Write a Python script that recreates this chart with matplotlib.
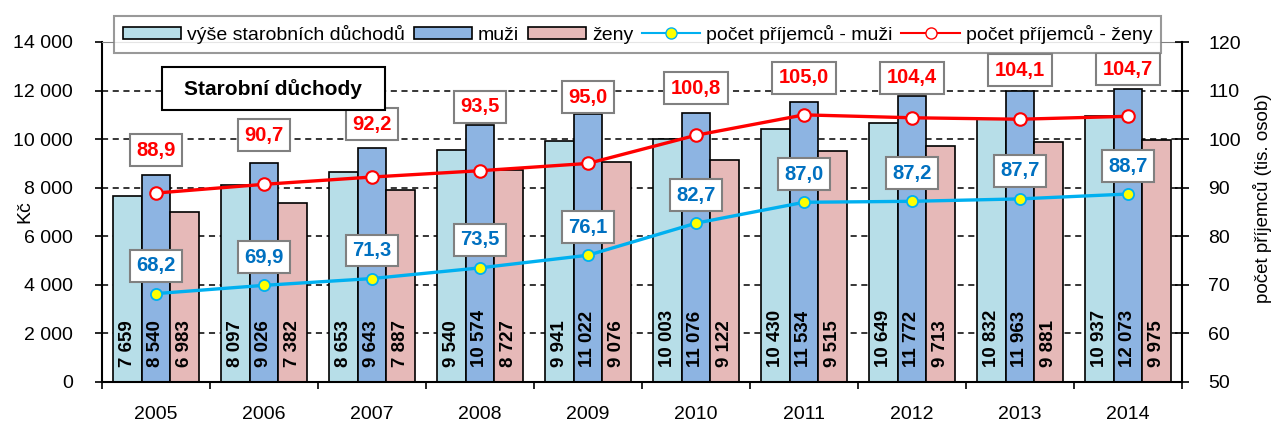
import numpy as np
import matplotlib
matplotlib.use("Agg")
from matplotlib import pyplot as plt
from matplotlib.patches import Rectangle, Patch
from matplotlib.lines import Line2D
from matplotlib.ticker import FuncFormatter

plt.rcParams['font.family'] = ['Liberation Sans', 'DejaVu Sans']

years = ["2005", "2006", "2007", "2008", "2009", "2010", "2011", "2012", "2013", "2014"]
vyse = [7659, 8097, 8653, 9540, 9941, 10003, 10430, 10649, 10832, 10937]
vyse_muzi = [8540, 9026, 9643, 10574, 11022, 11076, 11534, 11772, 11963, 12073]
vyse_zeny = [6983, 7382, 7887, 8727, 9076, 9122, 9515, 9713, 9881, 9975]
pocet_muzi = [68.2, 69.9, 71.3, 73.5, 76.1, 82.7, 87.0, 87.2, 87.7, 88.7]
pocet_zeny = [88.9, 90.7, 92.2, 93.5, 95.0, 100.8, 105.0, 104.4, 104.1, 104.7]

# how far (pixels) each women's label sits above its point
zeny_lbl_dy = [43, 49, 53, 64, 66, 47, 37, 40, 49, 47]
muzi_lbl_dy = 28

c_vyse = "#B7DEE8"
c_muzi = "#8DB4E2"
c_zeny = "#E6B9B8"
c_line_m = "#00B0F0"
c_line_z = "#FF0000"


def cz(v):
    return "{:,}".format(int(v)).replace(",", " ")


fig = plt.figure(figsize=(12.75, 4.26), dpi=100)
ax = fig.add_axes([102 / 1275, 1 - 382 / 426, 1080 / 1275, 340 / 426])
ax2 = ax.twinx()

x = np.arange(len(years))
w = 0.268
for off, vals, col in [(-w, vyse, c_vyse), (0, vyse_muzi, c_muzi), (w, vyse_zeny, c_zeny)]:
    ax.bar(x + off, vals, w, color=col, edgecolor="black", linewidth=1.2, zorder=2)
    for xi, v in zip(x + off, vals):
        ax.annotate(cz(v), (xi, 0), xytext=(0, 15), textcoords="offset pixels",
                    rotation=90, ha="center", va="bottom", fontsize=13.5,
                    fontweight="bold", zorder=3)

ax.set_ylim(0, 14000)
ax.set_yticks(range(0, 14001, 2000))
ax.yaxis.set_major_formatter(FuncFormatter(lambda v, p: cz(v)))
ax.set_xlim(-0.5, len(years) - 0.5)
ax.set_xticks(x)
ax.set_xticklabels(years)
ax.set_xticks(np.arange(-0.5, len(years)), minor=True)
ax.tick_params(axis="x", which="major", length=0, pad=17, labelsize=14)
ax.tick_params(axis="x", which="minor", length=5, width=1.2, direction="out")
ax.tick_params(axis="y", length=5, width=1.2, direction="out", pad=16, labelsize=14)
ax.yaxis.grid(True, color="black", linestyle=(0, (4, 3)), linewidth=1.1)
ax.set_axisbelow(True)
ax.set_ylabel("Kč", fontsize=14)
ax.yaxis.set_label_coords(-0.064, 0.5)
for s in ["left", "bottom"]:
    ax.spines[s].set_linewidth(1.5)
ax.spines["top"].set_color("#808080")
ax.spines["right"].set_visible(False)

ax2.plot(x, pocet_muzi, color=c_line_m, linewidth=2.4, marker="o", markersize=8,
         markerfacecolor="#FFFF00", markeredgecolor=c_line_m, markeredgewidth=1.3, zorder=4)
ax2.plot(x, pocet_zeny, color=c_line_z, linewidth=2.4, marker="o", markersize=9,
         markerfacecolor="white", markeredgecolor=c_line_z, markeredgewidth=1.5, zorder=4)
ax2.set_ylim(50, 120)
ax2.set_yticks(range(50, 121, 10))
ax2.tick_params(axis="y", length=10, width=1.2, direction="inout", pad=14, labelsize=14)
ax2.set_ylabel("počet příjemců (tis. osob)", fontsize=13.5)
ax2.yaxis.set_label_coords(1.066, 0.54)
ax2.spines["right"].set_linewidth(1.5)
ax2.spines["top"].set_visible(False)
ax2.spines["left"].set_visible(False)
ax2.spines["bottom"].set_visible(False)

box = dict(boxstyle="square,pad=0.32", facecolor="white", edgecolor="#808080", linewidth=1.5)
for xi, v in zip(x, pocet_muzi):
    ax2.annotate("{:.1f}".format(v).replace(".", ","), (xi, v), xytext=(0, muzi_lbl_dy),
                 textcoords="offset pixels", ha="center", va="center", fontsize=14.5,
                 fontweight="bold", color="#0070C0", bbox=box, zorder=5)
for xi, v, dy in zip(x, pocet_zeny, zeny_lbl_dy):
    ax2.annotate("{:.1f}".format(v).replace(".", ","), (xi, v), xytext=(0, dy),
                 textcoords="offset pixels", ha="center", va="center", fontsize=14.5,
                 fontweight="bold", color=c_line_z, bbox=box, zorder=5)

# chart title box
fig.patches.append(Rectangle((162 / 1275, 1 - 110 / 426), 223 / 1275, 43 / 426,
                             transform=fig.transFigure, facecolor="white",
                             edgecolor="black", linewidth=1.5, zorder=6))
fig.text(273 / 1275, 1 - 89 / 426, "Starobní důchody", ha="center", va="center",
         fontsize=15, fontweight="bold", zorder=7)

handles = [
    Patch(facecolor=c_vyse, edgecolor="black", linewidth=1.2),
    Patch(facecolor=c_muzi, edgecolor="black", linewidth=1.2),
    Patch(facecolor=c_zeny, edgecolor="black", linewidth=1.2),
    Line2D([], [], color=c_line_m, linewidth=1.5, marker="o", markersize=8,
           markerfacecolor="#FFFF00", markeredgecolor=c_line_m),
    Line2D([], [], color=c_line_z, linewidth=1.5, marker="o", markersize=8,
           markerfacecolor="white", markeredgecolor=c_line_z),
]
labels = ["výše starobních důchodů", "muži", "ženy", "počet příjemců - muži", "počet příjemců - ženy"]
leg = fig.legend(handles, labels, loc="center", ncol=5,
                 bbox_to_anchor=((117 + 1158) / 2 / 1275, 1 - 34.5 / 426),
                 fontsize=14, frameon=True, fancybox=False, handlelength=3.0,
                 handleheight=0.6, handletextpad=0.3, columnspacing=0.45,
                 borderpad=0.45)
leg.get_frame().set_edgecolor("#808080")
leg.get_frame().set_linewidth(1.5)
leg.set_zorder(8)

fig.savefig("out.png", dpi=100)
